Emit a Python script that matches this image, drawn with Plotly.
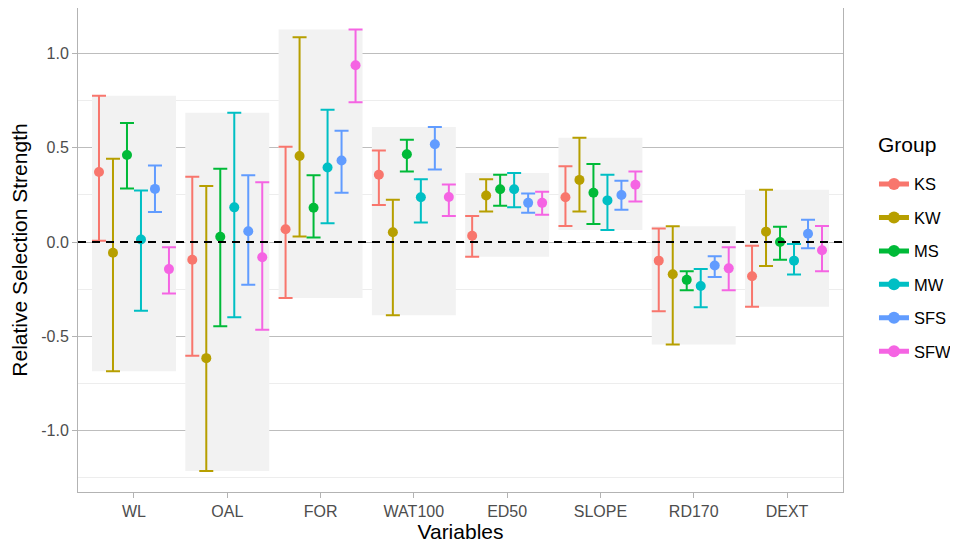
import plotly.graph_objects as go

variables = ["WL", "OAL", "FOR", "WAT100", "ED50", "SLOPE", "RD170", "DEXT"]
groups = ["KS", "KW", "MS", "MW", "SFS", "SFW"]
colors = ["#F8766D", "#B79F00", "#00BA38", "#00BFC4", "#619CFF", "#F564E3"]

# estimates per group, in order of variables
est = {
    "KS":  [0.372, -0.094, 0.068, 0.357, 0.033, 0.238, -0.099, -0.182],
    "KW":  [-0.057, -0.617, 0.457, 0.052, 0.247, 0.330, -0.171, 0.055],
    "MS":  [0.462, 0.028, 0.182, 0.466, 0.280, 0.262, -0.201, 0.000],
    "MW":  [0.013, 0.184, 0.396, 0.238, 0.280, 0.221, -0.234, -0.099],
    "SFS": [0.282, 0.057, 0.433, 0.519, 0.208, 0.250, -0.125, 0.044],
    "SFW": [-0.144, -0.081, 0.939, 0.239, 0.208, 0.304, -0.140, -0.044],
}
lower = {
    "KS":  [0.006, -0.604, -0.297, 0.197, -0.079, 0.085, -0.368, -0.344],
    "KW":  [-0.687, -1.217, 0.029, -0.389, 0.162, 0.162, -0.545, -0.127],
    "MS":  [0.284, -0.448, 0.024, 0.374, 0.192, 0.096, -0.256, -0.094],
    "MW":  [-0.365, -0.400, 0.099, 0.103, 0.184, 0.064, -0.346, -0.173],
    "SFS": [0.160, -0.227, 0.262, 0.385, 0.155, 0.171, -0.186, -0.033],
    "SFW": [-0.273, -0.466, 0.742, 0.138, 0.145, 0.215, -0.256, -0.155],
}
upper = {
    "KS":  [0.777, 0.346, 0.506, 0.486, 0.138, 0.403, 0.072, -0.020],
    "KW":  [0.442, 0.297, 1.088, 0.225, 0.333, 0.554, 0.083, 0.278],
    "MS":  [0.632, 0.389, 0.354, 0.543, 0.357, 0.414, -0.155, 0.081],
    "MW":  [0.274, 0.687, 0.702, 0.333, 0.366, 0.357, -0.144, -0.011],
    "SFS": [0.406, 0.354, 0.591, 0.611, 0.258, 0.326, -0.076, 0.118],
    "SFW": [-0.028, 0.317, 1.129, 0.306, 0.267, 0.374, -0.028, 0.085],
}

dodge = 0.15
fig = go.Figure()

# grey background boxes spanning each variable's intervals
for i, v in enumerate(variables):
    top = max(upper[g][i] for g in groups)
    bot = min(lower[g][i] for g in groups)
    fig.add_shape(type="rect", xref="x", yref="y", x0=i - 0.45, x1=i + 0.45,
                  y0=bot, y1=top, fillcolor="#F2F2F2", line=dict(width=0),
                  layer="between")

for gi, g in enumerate(groups):
    off = (gi - (len(groups) - 1) / 2) * dodge
    xs = [i + off for i in range(len(variables))]
    plus = [u - e for u, e in zip(upper[g], est[g])]
    minus = [e - l for e, l in zip(est[g], lower[g])]
    fig.add_trace(go.Scatter(
        x=xs, y=est[g], mode="markers", name=g, legendgroup=g, showlegend=False,
        marker=dict(color=colors[gi], size=10),
        error_y=dict(type="data", symmetric=False, array=plus, arrayminus=minus,
                     color=colors[gi], thickness=2, width=7),
    ))
    # legend key: point with a line through it
    fig.add_trace(go.Scatter(
        x=[None], y=[None], mode="lines+markers", name=g, legendgroup=g,
        marker=dict(color=colors[gi], size=10),
        line=dict(color=colors[gi], width=2),
    ))

fig.add_shape(type="line", xref="paper", yref="y", x0=0, x1=1, y0=0, y1=0,
              line=dict(color="black", width=2, dash="8px,6px"), layer="above")

fig.add_annotation(text="Group", xref="paper", yref="paper", x=1.043, y=0.717,
                   xanchor="left", yanchor="middle", showarrow=False,
                   font=dict(size=21, color="black"))

fig.update_layout(
    width=950, height=535,
    margin=dict(l=70, r=115, t=0, b=51),
    plot_bgcolor="white", paper_bgcolor="white",
    font=dict(family="Liberation Sans, Arial, sans-serif", color="black"),
    legend=dict(font=dict(size=16.5), x=1.0405, xanchor="left", y=0.672, yanchor="top",
                tracegroupgap=9, itemsizing="constant"),
    xaxis=dict(range=[-0.6, 7.6], tickvals=list(range(len(variables))),
               ticktext=variables, showgrid=False, zeroline=False,
               showline=True, mirror=True, linecolor="#B3B3B3", linewidth=1,
               ticks="outside", ticklen=5, tickcolor="#B3B3B3",
               tickfont=dict(size=16, color="#4D4D4D"),
               title=dict(text="Variables", font=dict(size=21), standoff=3)),
    yaxis=dict(range=[-1.328, 1.243], tickvals=[-1.0, -0.5, 0.0, 0.5, 1.0],
               ticktext=["-1.0", "-0.5", "0.0", "0.5", "1.0"],
               showgrid=True, gridcolor="#BDBDBD", gridwidth=1, zeroline=False,
               showline=True, mirror=True, linecolor="#B3B3B3", linewidth=1,
               ticks="outside", ticklen=5, tickcolor="#B3B3B3",
               tickfont=dict(size=16, color="#4D4D4D"),
               minor=dict(tickvals=[-1.25, -0.75, -0.25, 0.25, 0.75],
                          showgrid=True, gridcolor="#EDEDED", gridwidth=1, ticks=""),
               title=dict(text="Relative Selection Strength", font=dict(size=21), standoff=10)),
)

fig.write_html("out.html")
